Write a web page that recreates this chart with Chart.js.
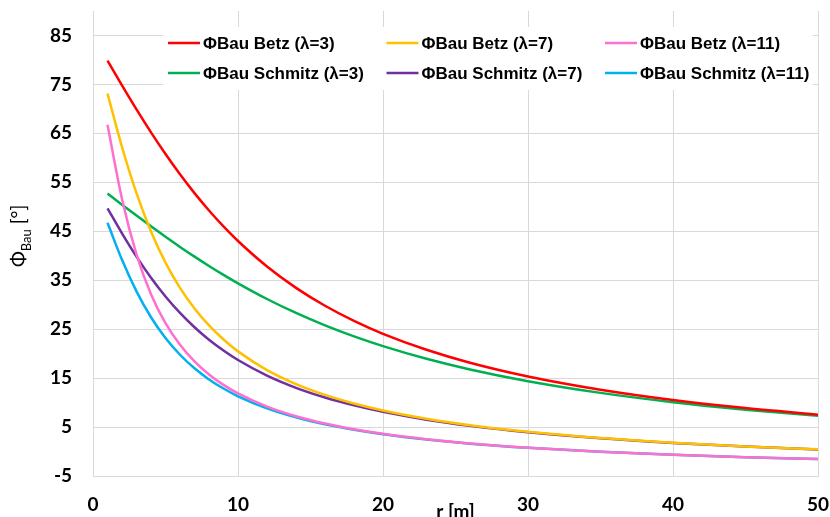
<!DOCTYPE html>
<html>
<head>
<meta charset="utf-8">
<script src="https://cdn.jsdelivr.net/npm/chart.js"></script>
<style>
  html, body { margin: 0; padding: 0; background: #fff; }
</style>
</head>
<body>
<canvas id="phiChart" width="830" height="517"></canvas>
<script>
// radius along the blade [m]
const radius = [1, 2, 3, 4, 5, 6, 7, 8, 9, 10, 12, 14, 16, 18, 20, 23, 26, 30, 35, 40, 45, 50];

// construction angle Phi_Bau [deg]
const betz3     = [79.86, 74.80, 69.89, 65.20, 60.77, 56.63, 52.79, 49.25, 45.99, 43.01, 37.80, 33.44, 29.78, 26.69, 24.05, 20.79, 18.14, 15.33, 12.62, 10.52, 8.87, 7.53];
const betz7     = [73.14, 62.22, 52.79, 44.97, 38.60, 33.44, 29.22, 25.76, 22.89, 20.46, 16.64, 13.79, 11.58, 9.82, 8.39, 6.70, 5.38, 4.02, 2.75, 1.79, 1.04, 0.44];
const betz11    = [66.74, 51.58, 40.29, 32.15, 26.22, 21.80, 18.41, 15.75, 13.61, 11.86, 9.17, 7.21, 5.72, 4.56, 3.62, 2.51, 1.65, 0.77, -0.05, -0.67, -1.15, -1.53];
const schmitz3  = [52.71, 50.44, 48.20, 46.00, 43.87, 41.80, 39.81, 37.91, 36.09, 34.36, 31.16, 28.31, 25.78, 23.53, 21.54, 18.95, 16.77, 14.37, 11.98, 10.08, 8.55, 7.29];
const schmitz7  = [49.69, 44.57, 39.81, 35.50, 31.67, 28.31, 25.39, 22.84, 20.63, 18.69, 15.51, 13.02, 11.04, 9.43, 8.10, 6.50, 5.24, 3.93, 2.69, 1.75, 1.01, 0.42];
const schmitz11 = [46.73, 39.17, 32.72, 27.43, 23.18, 19.77, 17.00, 14.73, 12.87, 11.29, 8.83, 6.99, 5.57, 4.45, 3.53, 2.45, 1.61, 0.75, -0.07, -0.68, -1.15, -1.54];

const seriesNames = ['ΦBau Betz (λ=3)', 'ΦBau Betz (λ=7)', 'ΦBau Betz (λ=11)',
                     'ΦBau Schmitz (λ=3)', 'ΦBau Schmitz (λ=7)', 'ΦBau Schmitz (λ=11)'];
const seriesValues = [betz3, betz7, betz11, schmitz3, schmitz7, schmitz11];
const seriesColors = ['#ff0000', '#ffc000', '#ff6fcf', '#00b050', '#7030a0', '#00b0f0'];

const yTicks = [-5, 5, 15, 25, 35, 45, 55, 65, 75, 85];
const xTicks = [0, 10, 20, 30, 40, 50];

const tickFont = { family: 'Lato, "Open Sans", sans-serif', size: 19, weight: 'bold' };
const gridColor = '#d9d9d9';

// legend drawn as a white box over the top of the plot, 3 columns x 2 rows
const legendBox = {
  id: 'legendBox',
  afterDatasetsDraw(chart) {
    const ctx = chart.ctx;
    ctx.save();
    ctx.fillStyle = '#ffffff';
    ctx.fillRect(163, 27, 650, 63);
    ctx.font = 'bold 17px "Liberation Sans", Arial, sans-serif';
    ctx.textBaseline = 'middle';
    ctx.textAlign = 'left';
    chart.data.datasets.forEach((ds, i) => {
      const x = 168 + (i % 3) * 218.5;
      const y = 43 + Math.floor(i / 3) * 30;
      ctx.strokeStyle = ds.borderColor;
      ctx.lineWidth = 2.5;
      ctx.beginPath();
      ctx.moveTo(x, y);
      ctx.lineTo(x + 32, y);
      ctx.stroke();
      ctx.fillStyle = '#000';
      ctx.fillText(ds.label, x + 35, y + 1);
    });
    ctx.restore();
  }
};

// rotated y title with subscript: Φ_Bau [°]
const yTitle = {
  id: 'yTitle',
  afterDraw(chart) {
    const ctx = chart.ctx;
    ctx.save();
    ctx.translate(25, 267);
    ctx.rotate(-Math.PI / 2);
    ctx.fillStyle = '#000';
    ctx.textBaseline = 'alphabetic';
    ctx.textAlign = 'left';
    ctx.font = '19px Lato, sans-serif';
    ctx.fillText('Φ', 0, 0);
    let x = ctx.measureText('Φ').width;
    ctx.font = '13px Lato, sans-serif';
    ctx.fillText('Bau', x, 6);
    x += ctx.measureText('Bau').width;
    ctx.font = '19px Lato, sans-serif';
    ctx.fillText(' [°]', x, 0);
    ctx.restore();
  }
};

new Chart(document.getElementById('phiChart'), {
  type: 'line',
  data: {
    datasets: seriesValues.map((vals, i) => ({
      label: seriesNames[i],
      data: radius.map((r, j) => ({ x: r, y: vals[j] })),
      borderColor: seriesColors[i],
      backgroundColor: seriesColors[i],
      borderWidth: 2.5,
      pointRadius: 0,
      fill: false,
      cubicInterpolationMode: 'monotone'
    }))
  },
  options: {
    responsive: false,
    animation: false,
    layout: { padding: { left: 0, right: 12, top: 11, bottom: 0 } },
    plugins: {
      legend: { display: false },
      tooltip: { enabled: false }
    },
    scales: {
      x: {
        type: 'linear',
        min: 0,
        max: 50,
        afterBuildTicks: s => { s.ticks = xTicks.map(v => ({ value: v })); },
        afterFit: s => { s.height = 41; s.paddingLeft = 0; s.paddingRight = 0; },
        grid: { color: gridColor, drawTicks: false },
        border: { color: gridColor },
        ticks: { color: '#000', font: tickFont, padding: 17, maxRotation: 0 },
        title: {
          display: true,
          text: 'r [m]',
          color: '#000',
          font: tickFont,
          padding: { top: 0, bottom: -6 }
        }
      },
      y: {
        min: -5,
        max: 90,
        afterBuildTicks: s => { s.ticks = yTicks.map(v => ({ value: v })); },
        afterFit: s => { s.width = 93; s.paddingTop = 0; s.paddingBottom = 0; },
        grid: { color: gridColor, drawTicks: false },
        border: { color: gridColor },
        ticks: { color: '#000', font: tickFont, padding: 21 }
      }
    }
  },
  plugins: [legendBox, yTitle]
});
</script>
</body>
</html>
